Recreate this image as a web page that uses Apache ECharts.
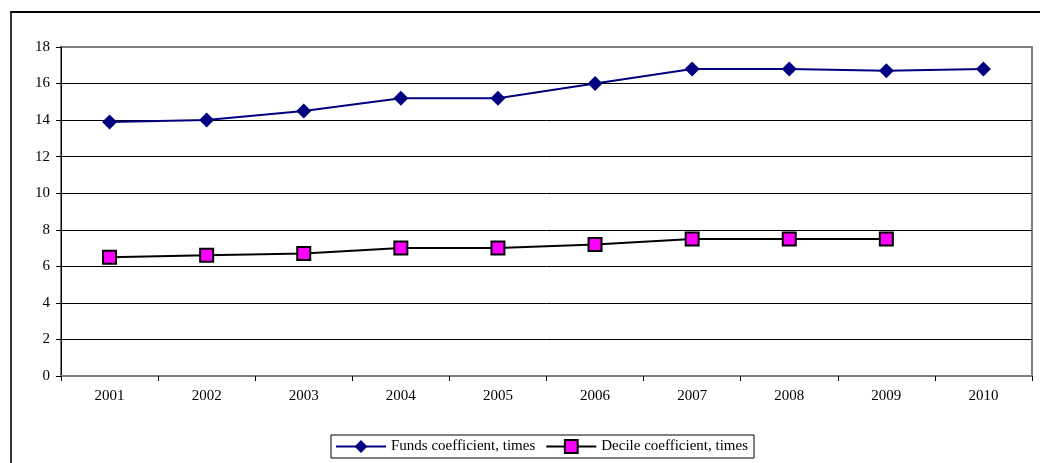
<!DOCTYPE html>
<html>
<head>
<meta charset="utf-8">
<script src="https://cdn.jsdelivr.net/npm/echarts@6/dist/echarts.min.js"></script>
<style>
  html, body { margin: 0; padding: 0; background: #fff; }
  #frame { position: absolute; left: 10px; top: 11px; width: 1030px; height: 452px;
           border-top: 2px solid #000; border-left: 2px solid #333; box-sizing: border-box; }
  #chart { position: absolute; left: 0; top: 0; width: 1040px; height: 463px; }
</style>
</head>
<body>
<div id="frame"></div>
<div id="chart"></div>
<script>
// values
const years = ['2001', '2002', '2003', '2004', '2005', '2006', '2007', '2008', '2009', '2010']
const fundsCoef = [13.9, 14.0, 14.5, 15.2, 15.2, 16.0, 16.8, 16.8, 16.7, 16.8]
const decileCoef = [6.5, 6.6, 6.7, 7.0, 7.0, 7.2, 7.5, 7.5, 7.5, null]

const font = '"Liberation Serif", "Times New Roman", serif'

const chart = echarts.init(document.getElementById('chart'))
chart.setOption({
  animation: false,
  textStyle: { fontFamily: font, color: '#000' },
  grid: {
    left: 61, right: 8, top: 47, bottom: 87,
    show: true, borderColor: '#808080', borderWidth: 2, backgroundColor: 'transparent'
  },
  legend: {
    bottom: 5, left: 331,
    borderColor: '#000', borderWidth: 1, backgroundColor: '#fff',
    padding: [4, 6, 4, 4],
    itemWidth: 50, itemHeight: 16, itemGap: 10,
    textStyle: { fontFamily: font, fontSize: 15, color: '#000' },
    data: ['Funds coefficient, times', 'Decile coefficient, times']
  },
  xAxis: {
    type: 'category',
    data: years,
    boundaryGap: true,
    axisLine: { lineStyle: { color: '#808080', width: 2 } },
    axisTick: { show: true, inside: false, length: 5, lineStyle: { color: '#000' } },
    axisLabel: { fontFamily: font, fontSize: 15, color: '#000', margin: 13 }
  },
  yAxis: {
    type: 'value',
    min: 0, max: 18, interval: 2,
    axisLine: { show: true, lineStyle: { color: '#000', width: 1 } },
    axisTick: { show: true, length: 5, lineStyle: { color: '#000' } },
    axisLabel: { fontFamily: font, fontSize: 15, color: '#000', margin: 11 },
    splitLine: { show: true, showMinLine: false, showMaxLine: false, lineStyle: { color: '#000', width: 1 } }
  },
  series: [
    {
      name: 'Funds coefficient, times',
      type: 'line',
      data: fundsCoef,
      symbol: 'diamond',
      symbolSize: 15,
      lineStyle: { color: '#000080', width: 2 },
      itemStyle: { color: '#000080', borderColor: '#000080', borderWidth: 0 }
    },
    {
      name: 'Decile coefficient, times',
      type: 'line',
      data: decileCoef,
      symbol: 'rect',
      symbolSize: 13,
      lineStyle: { color: '#000', width: 2 },
      itemStyle: { color: '#ff00ff', borderColor: '#000', borderWidth: 2 }
    }
  ]
})
</script>
</body>
</html>
